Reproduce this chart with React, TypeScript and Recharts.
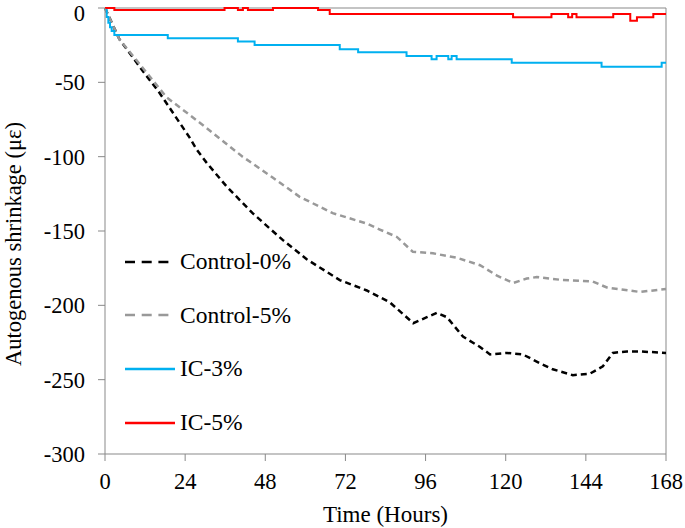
import React from "react";
import { Legend, Line, LineChart, ReferenceLine, XAxis, YAxis } from "recharts";

// Hours since casting and autogenous strain (με)
const control0Hours = [0, 4.3, 11.2, 16.3, 22.3, 25.3, 27.4, 30.4, 36.4, 44.2, 53.2, 60.4, 70.3, 78.4, 85.3, 92.3, 96.4, 99.4, 102.4, 107.2, 112.3, 115.3, 120.4, 125.1, 130.3, 134.1, 140.1, 145.2, 149.1, 152.1, 156.3, 160.2, 168];
const control0Strain = [0, -21, -42, -57, -77, -87, -95, -104, -120, -138, -156, -169, -183, -190, -198, -212, -208, -205, -208, -221, -228, -233, -232, -233, -239, -243, -247, -246, -241, -232, -231, -231, -232];

const control5Hours = [0, 4.3, 11.2, 18.4, 28.3, 41.2, 50.2, 58.3, 68.2, 78.4, 82.3, 87.4, 92.2, 98.2, 105.4, 112.3, 117.4, 122.2, 126.3, 129.3, 137.1, 146.1, 150.3, 160.2, 168];
const control5Strain = [0, -21, -40, -60, -77, -100, -114, -127, -138, -145, -149, -154, -164, -165, -168, -173, -180, -185, -182, -181, -183, -184, -188, -191, -189];

const ic3Hours = [0, 0.5, 1, 1.5, 2, 2.8, 18.8, 39.8, 44.8, 70.3, 75.8, 90.3, 97.8, 99.3, 102.8, 103.8, 105.3, 121.8, 148.7, 166.7, 168];
const ic3Strain = [0, -6, -10, -13, -15.5, -18.2, -20.4, -22.6, -24.9, -27.8, -29.8, -32.3, -34.5, -32.3, -34.5, -32.3, -34.5, -36.8, -39.5, -36.8, -36.8];

const ic5Hours = [0, 2.8, 35.8, 39.8, 41.3, 42.8, 50.3, 63.8, 67.3, 122.2, 133.7, 138.7, 139.9, 141.2, 152.2, 157.3, 159.3, 164.2, 168];
const ic5Strain = [0, -1.3, 0, -1.3, 0, -1.3, 0, -1.3, -4, -6.3, -4, -6.3, -4, -6.3, -4, -8.5, -6.3, -4, -4];

const xTicks = [0, 24, 48, 72, 96, 120, 144, 168];
const yTicks = [-300, -250, -200, -150, -100, -50, 0];

const zip = (hours: number[], strain: number[]) =>
  hours.map((t, i) => ({ t, v: strain[i] }));

const series = [
  { name: "Control-0%", data: zip(control0Hours, control0Strain), color: "#000000", width: 2.5, dash: "6 4", legendDash: "10 6.7", type: "linear" },
  { name: "Control-5%", data: zip(control5Hours, control5Strain), color: "#999999", width: 2.5, dash: "6 4", legendDash: "10 6.7", type: "linear" },
  { name: "IC-3%", data: zip(ic3Hours, ic3Strain), color: "#00B0F0", width: 2, dash: undefined, legendDash: undefined, type: "stepAfter" },
  { name: "IC-5%", data: zip(ic5Hours, ic5Strain), color: "#FF0000", width: 2, dash: undefined, legendDash: undefined, type: "stepAfter" },
];

const FONT = "Liberation Serif";
const AXIS = "#898989";

function LegendBox() {
  return (
    <div style={{ fontFamily: FONT, fontSize: 23.5, color: "#000" }}>
      {series.map((s) => (
        <div key={s.name} style={{ height: 53.6, display: "flex", alignItems: "center" }}>
          <svg width={50} height={6} style={{ display: "block" }}>
            <line x1={0} y1={3} x2={50} y2={3} stroke={s.color} strokeWidth={2.5} strokeDasharray={s.legendDash} />
          </svg>
          <span style={{ marginLeft: 5, whiteSpace: "nowrap" }}>{s.name}</span>
        </div>
      ))}
    </div>
  );
}

export default function App() {
  return (
    <div style={{ position: "absolute", left: 0, top: 0, background: "#fff", fontFamily: FONT }}>
      <LineChart width={685} height={528} margin={{ top: 8, right: 19, bottom: 0, left: 0 }} style={{ fontFamily: FONT }}>
        <XAxis
          type="number"
          dataKey="t"
          domain={[0, 168]}
          ticks={xTicks}
          stroke={AXIS}
          tickSize={7}
          tickMargin={12}
          height={74}
          tick={{ fontSize: 22.5, fill: "#000", fontFamily: FONT }}
          label={{ value: "Time (Hours)", position: "insideBottom", offset: 6, style: { fontSize: 23, fill: "#000", fontFamily: FONT } }}
        />
        <YAxis
          type="number"
          domain={[-300, 0]}
          ticks={yTicks}
          stroke={AXIS}
          tickSize={7}
          tickMargin={13}
          width={105}
          tick={{ fontSize: 22.5, fill: "#000", fontFamily: FONT }}
          label={{ value: "Autogenous shrinkage (με)", angle: -90, position: "insideLeft", offset: 13, dy: 13, style: { fontSize: 22.5, fill: "#000", fontFamily: FONT, textAnchor: "middle" } }}
        />
        <ReferenceLine y={0} stroke={AXIS} />
        <ReferenceLine x={168} stroke={AXIS} />
        {series.map((s) => (
          <Line
            key={s.name}
            data={s.data}
            dataKey="v"
            name={s.name}
            type={s.type as any}
            stroke={s.color}
            strokeWidth={s.width}
            strokeDasharray={s.dash}
            dot={false}
            isAnimationActive={false}
          />
        ))}
        <Legend
          layout="vertical"
          align="center"
          verticalAlign="middle"
          content={() => <LegendBox />}
          wrapperStyle={{ left: 125, top: 235, width: 230, height: 215 }}
        />
      </LineChart>
    </div>
  );
}
